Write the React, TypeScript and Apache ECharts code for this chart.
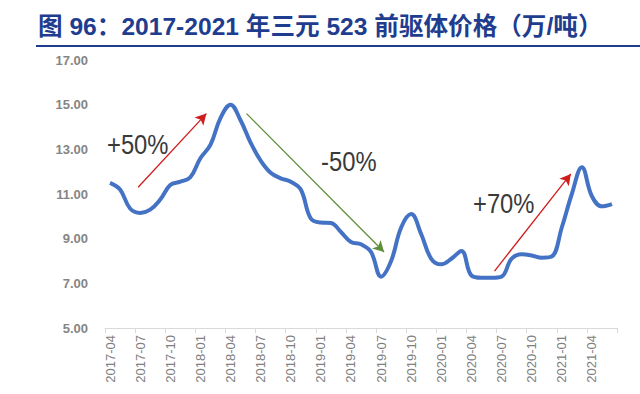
import React, { useEffect, useRef } from "react";
import * as echarts from "echarts";

const months: string[] = [
  "2017-04","2017-05","2017-06","2017-07","2017-08","2017-09","2017-10","2017-11","2017-12",
  "2018-01","2018-02","2018-03","2018-04","2018-05","2018-06","2018-07","2018-08","2018-09",
  "2018-10","2018-11","2018-12","2019-01","2019-02","2019-03","2019-04","2019-05","2019-06",
  "2019-07","2019-08","2019-09","2019-10","2019-11","2019-12","2020-01","2020-02","2020-03",
  "2020-04","2020-05","2020-06","2020-07","2020-08","2020-09","2020-10","2020-11","2020-12",
  "2021-01","2021-02","2021-03","2021-04","2021-05","2021-06",
];

const prices: number[] = [
  11.5, 11.2, 10.35, 10.15, 10.3, 10.75, 11.4, 11.55, 11.75,
  12.6, 13.2, 14.4, 15.0, 14.3, 13.3, 12.5, 11.95, 11.7,
  11.55, 11.2, 9.9, 9.72, 9.7, 9.3, 8.85, 8.75, 8.4,
  7.3, 8.0, 9.5, 10.1, 9.2, 8.1, 7.85, 8.1, 8.45,
  7.35, 7.25, 7.25, 7.3, 8.1, 8.3, 8.25, 8.15, 8.2,
  9.5, 11.0, 12.2, 10.9, 10.45, 10.55,
];

// annotation arrows: [startIndex, startValue, endIndex, endValue]
const arrowUp1: number[] = [2.8, 11.3, 9.6, 14.6];
const arrowDown: number[] = [13.6, 14.6, 27.3, 8.4];
const arrowUp2: number[] = [38.3, 7.55, 45.9, 11.9];
const annotationTexts: string[] = ["+50%", "-50%", "+70%"];

const yTicks = { min: 5, max: 17, interval: 2 };

export default function App() {
  const ref = useRef<HTMLDivElement>(null);
  useEffect(() => {
    document.body.style.margin = "0";
    if (!ref.current) return;
    const chart = echarts.init(ref.current, undefined, { renderer: "svg" });
    const arrowLine = (a: number[], color: string) => ({
      symbol: ["none", "arrow"],
      symbolSize: [9, 11],
      silent: true,
      label: { show: false },
      lineStyle: { color, width: 1.3, type: "solid" },
      data: [[{ coord: [a[0], a[1]] }, { coord: [a[2], a[3]] }]],
    });
    const annFont = "28px 'Liberation Sans', Arial, sans-serif";
    const annText = (text: string, x: number, y: number) => ({
      type: "text",
      x,
      y,
      scaleX: 0.85,
      style: { text, fill: "#3a3a3a", font: annFont, verticalAlign: "middle" },
    });
    chart.setOption({
      animation: false,
      backgroundColor: "#ffffff",
      grid: { left: 105, right: 23, top: 60, bottom: 66, containLabel: false },
      xAxis: [
        {
          type: "category",
          data: months,
          boundaryGap: true,
          axisLine: { show: true, lineStyle: { color: "#d9d9d9", width: 1 } },
          axisTick: { show: true, interval: 2, length: 5, lineStyle: { color: "#d9d9d9" } },
          axisLabel: {
            interval: 2,
            rotate: 90,
            margin: 7,
            color: "#808080",
            fontSize: 13,
            fontFamily: "Liberation Sans, Arial, sans-serif",
          },
          splitLine: { show: false },
        },
        {
          type: "value",
          min: -0.5,
          max: 50.5,
          show: false,
          splitLine: { show: false },
        },
      ],
      yAxis: {
        type: "value",
        min: yTicks.min,
        max: yTicks.max,
        interval: yTicks.interval,
        axisLine: { show: false },
        axisTick: { show: false },
        splitLine: { show: false },
        axisLabel: {
          margin: 17,
          color: "#858585",
          fontSize: 13,
          fontWeight: "bold",
          fontFamily: "Liberation Sans, Arial, sans-serif",
          formatter: (v: number) => v.toFixed(2),
        },
      },
      series: [
        {
          type: "line",
          data: prices,
          smooth: 0.4,
          showSymbol: false,
          lineStyle: { color: "#4472C4", width: 4 },
          itemStyle: { color: "#4472C4" },
        },
        { type: "line", xAxisIndex: 1, data: [], markLine: arrowLine(arrowUp1, "#d01c1c") },
        { type: "line", xAxisIndex: 1, data: [], markLine: arrowLine(arrowDown, "#5f8f3a") },
        { type: "line", xAxisIndex: 1, data: [], markLine: arrowLine(arrowUp2, "#d01c1c") },
      ],
      graphic: [
        {
          type: "text",
          left: 38,
          top: 14,
          style: {
            text: "图 96：2017-2021 年三元 523 前驱体价格（万/吨）",
            fill: "#1f3d8f",
            font: "bold 24.6px 'Liberation Sans', 'Noto Sans CJK SC', sans-serif",
          },
        },
        {
          type: "rect",
          shape: { x: 36, y: 45, width: 604, height: 2 },
          style: { fill: "#1f3d8f" },
        },
        annText(annotationTexts[0], 107, 144),
        annText(annotationTexts[1], 321, 161),
        annText(annotationTexts[2], 473, 203),
      ],
    });
    return () => chart.dispose();
  }, []);
  return <div ref={ref} style={{ width: 640, height: 394 }} />;
}
